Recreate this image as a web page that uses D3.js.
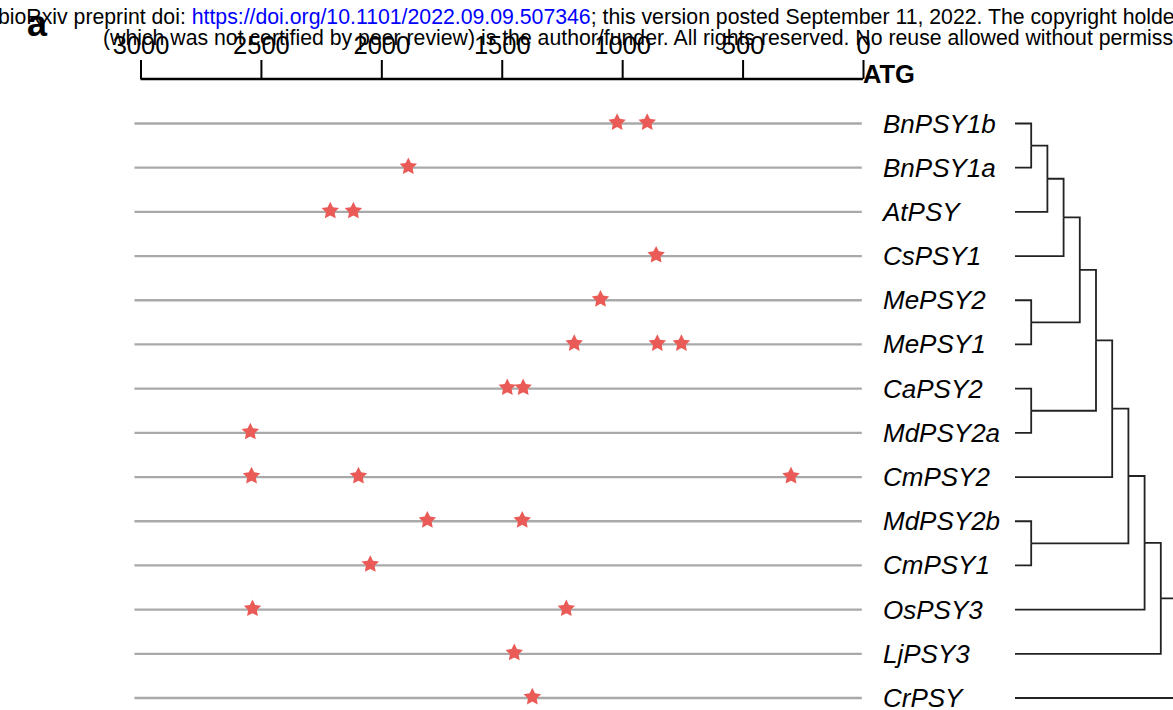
<!DOCTYPE html>
<html>
<head>
<meta charset="utf-8">
<script src="https://cdn.jsdelivr.net/npm/d3@7"></script>
<style>
	body { margin: 0; background: #fff; }
	svg { display: block; font-family: "Liberation Sans", Arial, sans-serif; }
	.gene-label { font-style: italic; font-size: 26px; }
	.axis-top text { font-size: 25.5px; }
</style>
</head>
<body>
<div id="promoterPlot"></div>
<script>
// gene order, top to bottom
var genes = ["BnPSY1b", "BnPSY1a", "AtPSY", "CsPSY1", "MePSY2", "MePSY1", "CaPSY2",
	"MdPSY2a", "CmPSY2", "MdPSY2b", "CmPSY1", "OsPSY3", "LjPSY3", "CrPSY"]

// motif positions (bp upstream of ATG), one list per gene
var motifs = [
	[1021, 896],
	[1888],
	[2212, 2116],
	[859],
	[1090],
	[1199, 854, 754],
	[1477, 1411],
	[2544],
	[2539, 2095, 299],
	[1809, 1415],
	[2046],
	[2535, 1232],
	[1448],
	[1373]
]

var axis_ticks = [3000, 2500, 2000, 1500, 1000, 500, 0]
var line_extent = [3025, 5]

// tree topology (nested pairs)
var tree = [[[[[[[[[["BnPSY1b", "BnPSY1a"], "AtPSY"], "CsPSY1"], ["MePSY2", "MePSY1"]],
	["CaPSY2", "MdPSY2a"]], "CmPSY2"], ["MdPSY2b", "CmPSY1"]], "OsPSY3"], "LjPSY3"], "CrPSY"]

var header_1 = ["bioRxiv preprint doi: ", "https://doi.org/10.1101/2022.09.09.507346",
	"; this version posted September 11, 2022. The copyright holder for this preprint"]
var header_2 = "(which was not certified by peer review) is the author/funder. All rights reserved. No reuse allowed without permission."

var width = 1173
var height = 710

var svg = d3.select("#promoterPlot")
	.append("svg")
	.attr("width", width)
	.attr("height", height)

var xScale = d3.scaleLinear()
	.domain([3000, 0])
	.range([140.5, 863])

var yScale = d3.scalePoint()
	.domain(genes)
	.range([123.5, 698])

// fat five-point star, like the plotting symbol in the figure
var fatStar = {
	draw: function(context, size){
		var r = Math.sqrt(size / 1.6)
		var ri = r * 0.5
		for(var i = 0; i < 10; i++){
			var a = -Math.PI / 2 + i * Math.PI / 5
			var rr = (i % 2 == 0) ? r : ri
			if(i == 0) context.moveTo(rr * Math.cos(a), rr * Math.sin(a))
			else context.lineTo(rr * Math.cos(a), rr * Math.sin(a))
		}
		context.closePath()
	}
}

// preprint header
var h1 = svg.append("text")
	.attr("x", -2)
	.attr("y", 24)
	.style("font-size", "21.25px")
h1.selectAll("tspan")
	.data(header_1)
	.enter()
	.append("tspan")
	.attr("fill", (d, i) => i == 1 ? "#0000ff" : "#000")
	.text(d => d)

svg.append("text")
	.attr("x", 103)
	.attr("y", 45)
	.style("font-size", "21.25px")
	.text(header_2)

// panel letter
svg.append("text")
	.attr("x", 27)
	.attr("y", 36)
	.style("font-size", "36px")
	.style("font-weight", "bold")
	.text("a")

// top axis
var xAxis = d3.axisTop(xScale)
	.tickValues(axis_ticks)
	.tickSize(19)
	.tickPadding(6)
	.tickFormat(d3.format("d"))

var gAxis = svg.append("g")
	.attr("class", "axis-top")
	.attr("transform", "translate(0,79)")
	.call(xAxis)
gAxis.select(".domain")
	.attr("d", "M" + xScale(3000) + ",0H" + xScale(0))
	.attr("stroke", "#000")
	.attr("stroke-width", 2.5)
gAxis.selectAll(".tick line").attr("stroke-width", 2)
gAxis.selectAll(".tick text").attr("fill", "#000")

svg.append("text")
	.attr("x", xScale(0))
	.attr("y", 83)
	.style("font-size", "25.5px")
	.style("font-weight", "bold")
	.text("ATG")

// promoter lines
svg.selectAll(".promoter-line")
	.data(genes)
	.enter()
	.append("line")
	.attr("class", "promoter-line")
	.attr("x1", xScale(line_extent[0]))
	.attr("x2", xScale(line_extent[1]))
	.attr("y1", d => yScale(d))
	.attr("y2", d => yScale(d))
	.attr("stroke", "#a9a9a9")
	.attr("stroke-width", 2.3)

// motif stars
var points = []
genes.forEach((g, i) => motifs[i].forEach(p => points.push({gene: g, pos: p})))

svg.selectAll(".motif")
	.data(points)
	.enter()
	.append("path")
	.attr("class", "motif")
	.attr("d", d3.symbol(fatStar, 135))
	.attr("transform", d => "translate(" + xScale(d.pos) + "," + (yScale(d.gene) - 1) + ")")
	.attr("fill", "#ea5b57")

// gene names
svg.selectAll(".gene-label")
	.data(genes)
	.enter()
	.append("text")
	.attr("class", "gene-label")
	.attr("x", 883)
	.attr("y", d => yScale(d) + 9)
	.text(d => d)

// dendrogram (cladogram, x by node height)
var root = d3.hierarchy(tree, d => Array.isArray(d) ? d : null)
var treeX = d3.scaleLinear()
	.domain([0, root.height])
	.range([1015, 1177])

root.eachAfter(n => {
	if(!n.children){
		n.py = yScale(n.data)
	} else{
		n.py = (n.children[0].py + n.children[n.children.length - 1].py) / 2
	}
})

var links = root.descendants().filter(n => n.parent)
svg.selectAll(".tree-link")
	.data(links)
	.enter()
	.append("path")
	.attr("class", "tree-link")
	.attr("d", n => "M" + treeX(n.height) + "," + n.py + "H" + treeX(n.parent.height) + "V" + n.parent.py)
	.attr("fill", "none")
	.attr("stroke", "#222")
	.attr("stroke-width", 1.8)
</script>
</body>
</html>
